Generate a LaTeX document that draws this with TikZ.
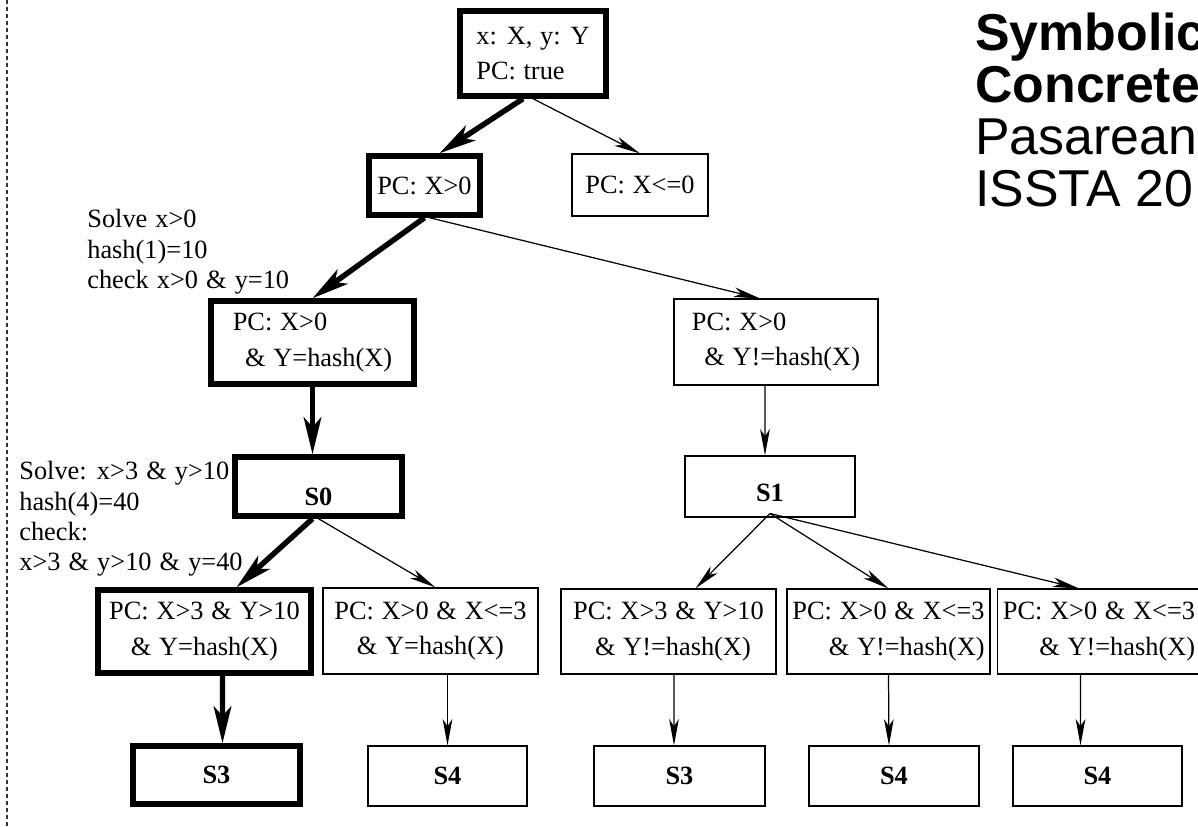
\documentclass[tikz,border=0pt]{standalone}
\usepackage{fontspec}
\setmainfont{Liberation Serif}
\newfontfamily\titlefont{Liberation Sans}
\usetikzlibrary{arrows.meta, positioning}
\newcommand{\boxfont}{\fontsize{15}{20}\selectfont\spaceskip=4.4pt plus 1pt minus 1pt\relax}
\newcommand{\notefont}{\fontsize{15}{17.3}\selectfont\spaceskip=4.6pt plus 1pt minus 1pt\relax}

\begin{document}
\begin{tikzpicture}[x=0.02cm, y=-0.02cm, >=Stealth,
    every node/.style={font=\boxfont, inner sep=0pt},
    box/.style={draw, line width=0.6pt, align=center},
    hotbox/.style={box, line width=3.1pt},
    arr/.style={-{Stealth[length=15pt, width=5.5pt, inset=4pt]}, line width=0.7pt},
    hotarr/.style={-{Stealth[length=21pt, width=10pt, inset=5.5pt]}, line width=3.1pt},
    note/.style={anchor=north west, align=left, font=\notefont}]
  \useasboundingbox (0,0) rectangle (1198,827);
  % Margin rule
  \draw[black!80, line width=0.6pt, dash pattern=on 2.3pt off 1.7pt] (7,0) -- (7,827);

  % Title
  \node[anchor=north west, align=left, font=\titlefont\fontsize{29.5}{29.5}\selectfont] (title)
    at (975,13) {\textbf{Symbolic}\\\textbf{Concrete}\\Pasarean\\ISSTA 20};

  % Top of the tree
  \node[hotbox, align=left, minimum width=2.92cm, minimum height=1.70cm] (root) at (533,53.5)
    {x: X, y: Y\\PC: true};
  \node[hotbox, minimum width=2.22cm, minimum height=1.18cm] (pa) at (424.5,185.5) {PC: X>0};
  \node[box, minimum width=2.72cm, minimum height=1.24cm] (pb) at (640,185) {PC: X<=0};

  % Second level
  \node[hotbox, align=left, minimum width=4.06cm, minimum height=1.66cm] (a) at (312.5,342.5)
    {PC: X>0\\\hspace{7pt}\& Y=hash(X)};
  \node[box, align=left, minimum width=4.08cm, minimum height=1.72cm] (b) at (776,342)
    {PC: X>0\\\hspace{7pt}\& Y!=hash(X)};
  \node[hotbox, minimum width=3.34cm, minimum height=1.18cm] (s0) at (318.5,486.5)
    {\raisebox{-6pt}[\height][\depth]{\textbf{S0}}};
  \node[box, minimum width=3.40cm, minimum height=1.22cm] (s1) at (770,486.5)
    {\raisebox{-3.5pt}[\height][\depth]{\textbf{S1}}};

  % Third level
  \node[hotbox, minimum width=4.26cm, minimum height=1.66cm] (c1) at (204.5,631.5)
    {PC: X>3 \& Y>10\\\& Y=hash(X)};
  \node[box, minimum width=4.30cm, minimum height=1.72cm] (c2) at (430.5,631)
    {PC: X>0 \& X<=3\\\& Y=hash(X)};
  \node[box, minimum width=4.30cm, minimum height=1.70cm] (c3) at (668.5,631.5)
    {PC: X>3 \& Y>10\\\hspace{5pt}\& Y!=hash(X)};
  \node[box, align=right, minimum width=4.06cm, minimum height=1.70cm] (c4) at (888.5,631.5)
    {PC: X>0 \& X<=3\\\& Y!=hash(X)};
  \node[box, align=right, minimum width=4.06cm, minimum height=1.70cm] (c5) at (1099,631.5)
    {PC: X>0 \& X<=3\\\& Y!=hash(X)};

  % Leaves
  \node[hotbox, minimum width=3.34cm, minimum height=1.16cm] (s3a) at (216.5,775) {\textbf{S3}};
  \node[box, minimum width=3.18cm, minimum height=1.20cm] (s4a) at (447.5,776) {\textbf{S4}};
  \node[box, minimum width=3.42cm, minimum height=1.20cm] (s3b) at (679.5,776) {\textbf{S3}};
  \node[box, minimum width=3.40cm, minimum height=1.20cm] (s4b) at (894,776) {\textbf{S4}};
  \node[box, minimum width=3.38cm, minimum height=1.20cm] (s4c) at (1097.5,776) {\textbf{S4}};

  % Notes
  \node[note] (solvea) at (87,209) {Solve x>0\\hash(1)=10\\check x>0 \& y=10};
  \node[note] (solveb) at (19,461) {Solve: x>3 \& y>10\\hash(4)=40\\check:\\x>3 \& y>10 \& y=40};

  % Edges
  \draw[hotarr] ([xshift=-0.2cm]root.south) -- ([xshift=0.3cm]pa.north);
  \draw[arr] (root.south) -- (pb.north);
  \draw[hotarr] (pa.south) -- (a.north);
  \draw[arr] ([xshift=0.1cm]pa.south) -- ([xshift=-0.32cm]b.north);
  \draw[hotarr] (a.south) -- (a.south |- s0.north);
  \draw[arr] ([xshift=-0.22cm]b.south) -- ([xshift=-0.1cm]s1.north);
  \draw[hotarr] ([xshift=-0.12cm]s0.south) -- ([xshift=0.64cm]c1.north);
  \draw[arr] (s0.south) -- ([xshift=0.1cm]c2.north);
  \coordinate (s1o) at ([yshift=0.08cm]s1.south);
  \draw[arr] (s1o) -- ([xshift=0.54cm]c3.north);
  \draw[arr] (s1o) -- (c4.north);
  \draw[arr] (s1o) -- ([xshift=-0.4cm]c5.north);
  \draw[hotarr] ([xshift=0.36cm]c1.south) -- ([xshift=0.12cm]s3a.north);
  \draw[arr] (c2.south -| s4a.north) -- (s4a.north);
  \draw[arr] ([xshift=0.11cm]c3.south) -- ([xshift=-0.11cm]s3b.north);
  \draw[arr] (c4.south) -- ([xshift=-0.1cm]s4b.north);
  \draw[arr] ([xshift=-0.37cm]c5.south) -- ([xshift=-0.34cm]s4c.north);
\end{tikzpicture}
\end{document}
